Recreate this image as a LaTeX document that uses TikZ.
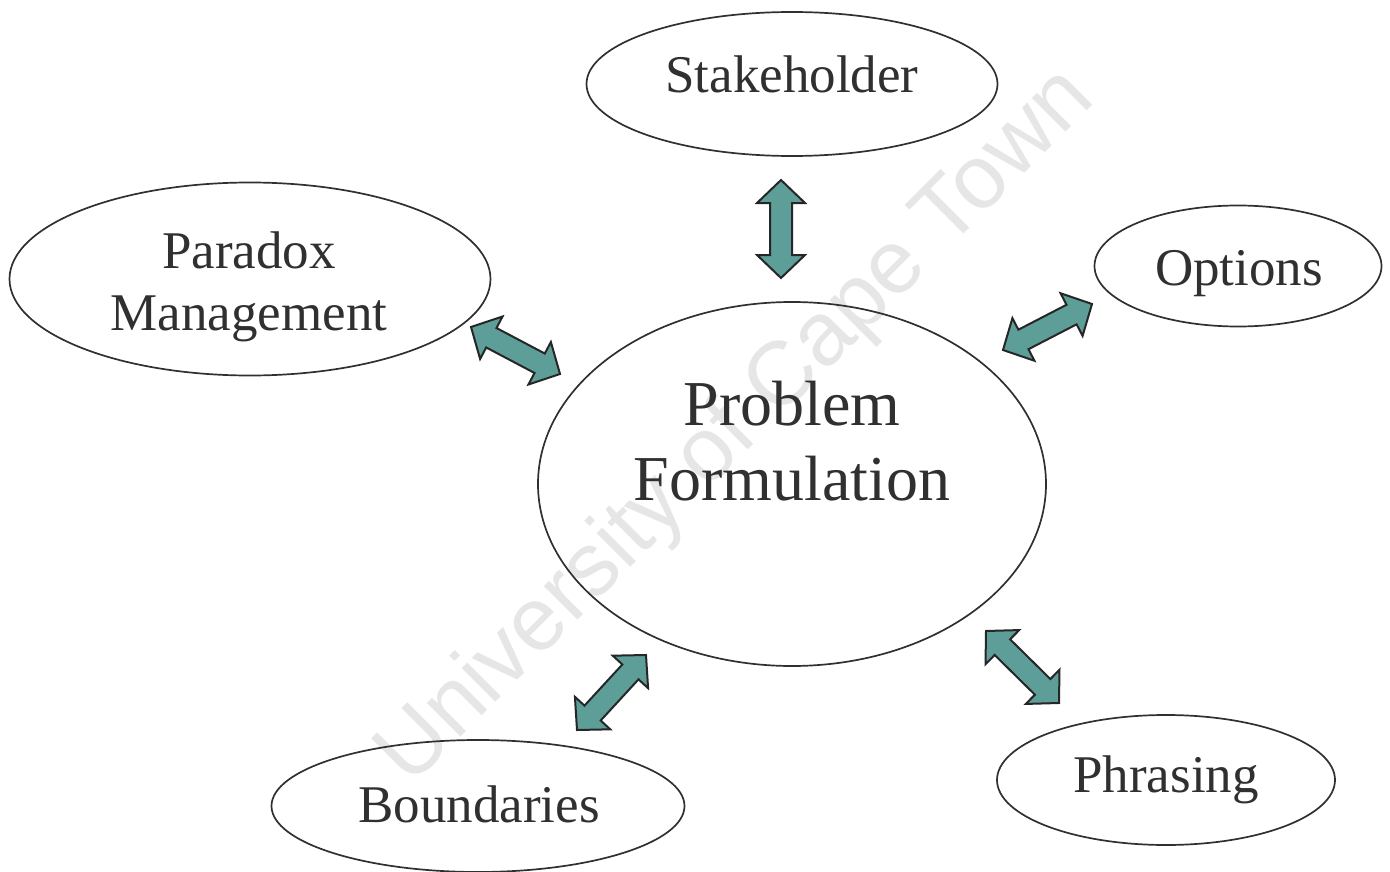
\documentclass[tikz,border=0pt]{standalone}
\usepackage{fontspec}
\setmainfont{Liberation Serif}
\newfontfamily\wmfont{Liberation Sans}
\usetikzlibrary{calc,shapes.geometric}
\definecolor{teal1}{HTML}{5E9E98}
\definecolor{edge1}{HTML}{262626}
\definecolor{ink}{HTML}{303030}
\definecolor{wm}{HTML}{E6E6E6}
\tikzset{
  ell/.style={draw=ink, line width=1.7pt, ellipse, inner sep=0pt},
  lbl/.style={text=ink, font=\fontsize{53}{62}\selectfont, anchor=base, inner sep=0pt},
  biglbl/.style={text=ink, font=\fontsize{64}{75}\selectfont, anchor=base, inner sep=0pt},
  blockarrow/.style={fill=teal1, draw=edge1, line width=2pt, line join=miter},
}
\newcommand{\dblarrow}[2]{%
  \coordinate (h1) at ($(#1)!23pt!(#2)$);
  \coordinate (h2) at ($(#2)!23pt!(#1)$);
  \draw[blockarrow] (#1)
    -- ($(h1)!24pt!90:(#2)$) -- ($(h1)!11pt!90:(#2)$)
    -- ($(h2)!11pt!-90:(#1)$) -- ($(h2)!24pt!-90:(#1)$)
    -- (#2)
    -- ($(h2)!24pt!90:(#1)$) -- ($(h2)!11pt!90:(#1)$)
    -- ($(h1)!11pt!-90:(#2)$) -- ($(h1)!24pt!-90:(#2)$)
    -- cycle;}
\begin{document}
\begin{tikzpicture}[x=1pt,y=-1pt]
\useasboundingbox (0,0) rectangle (1390,872);
% watermark
\node[text=wm, font=\wmfont\fontsize{90}{100}\selectfont, rotate=45, inner sep=0pt] (wmark) at (737,428) {University of Cape Town};
% ellipses
\node[ell, minimum width=411pt, minimum height=144pt] (stake) at (792,84) {};
\node[ell, minimum width=481pt, minimum height=193pt] (para) at (250,279) {};
\node[ell, minimum width=287pt, minimum height=121pt] (opt) at (1238,266) {};
\node[ell, minimum width=508pt, minimum height=364pt] (prob) at (792,484) {};
\node[ell, minimum width=413pt, minimum height=132pt] (bound) at (478,806) {};
\node[ell, minimum width=338pt, minimum height=130pt] (phr) at (1166,780) {};
% labels
\node[lbl] (tstake) at (792,93) {Stakeholder};
\node[lbl] (tpara1) at (249,268) {Paradox};
\node[lbl] (tpara2) at (249,330) {Management};
\node[lbl] (topt) at (1239,285) {Options};
\node[biglbl] (tprob1) at (792,425) {Problem};
\node[biglbl] (tprob2) at (792,500) {Formulation};
\node[lbl] (tbound) at (479,822) {Boundaries};
\node[lbl] (tphr) at (1166,792) {Phrasing};
% arrow ends
\coordinate (sA) at (781,180); \coordinate (sB) at (781,278);
\coordinate (pA) at (471,327); \coordinate (pB) at (560,374);
\coordinate (oA) at (1003,350); \coordinate (oB) at (1092,304);
\coordinate (bA) at (577,730); \coordinate (bB) at (646,655);
\coordinate (fA) at (986,631); \coordinate (fB) at (1059,703);
\dblarrow{sA}{sB}
\dblarrow{pA}{pB}
\dblarrow{oA}{oB}
\dblarrow{bA}{bB}
\dblarrow{fA}{fB}
\end{tikzpicture}
\end{document}
